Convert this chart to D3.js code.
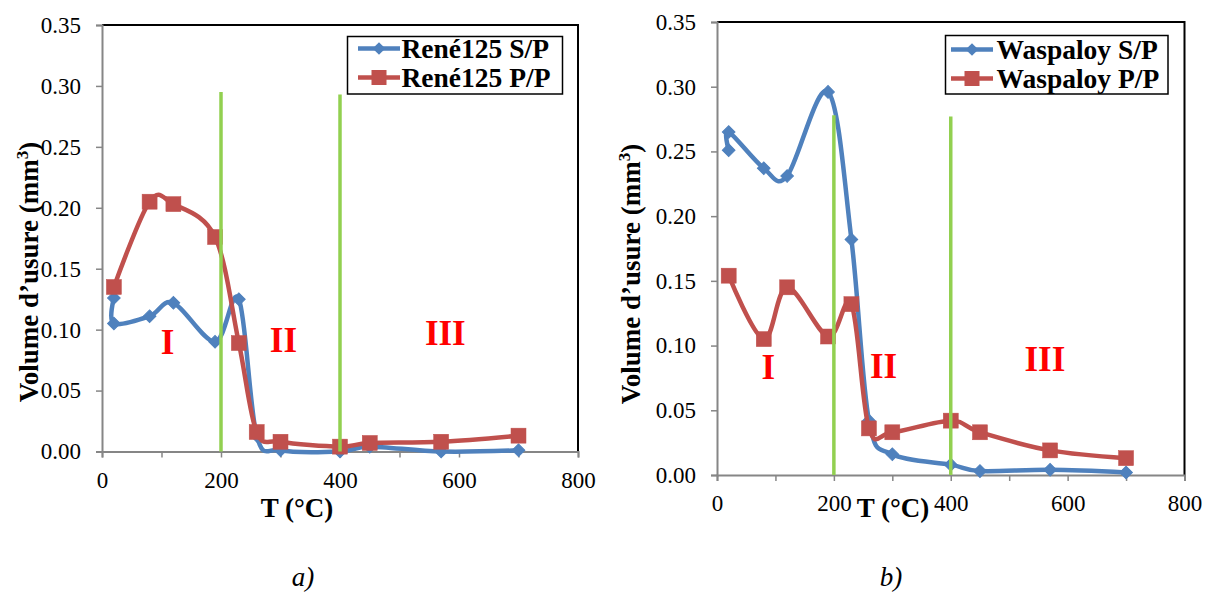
<!DOCTYPE html>
<html>
<head>
<meta charset="utf-8">
<script src="https://cdn.jsdelivr.net/npm/d3@7"></script>
<style>
  html, body { margin: 0; padding: 0; background: #fff; }
  svg { display: block; }
  svg text { font-family: "Liberation Serif", "Times New Roman", serif !important; }
</style>
</head>
<body>
<svg id="chart" width="1208" height="594"></svg>
<script>
// ---------------- DATA ----------------
const yTicks = [0, 0.05, 0.10, 0.15, 0.20, 0.25, 0.30, 0.35];
const xTicks = [0, 100, 200, 300, 400, 500, 600, 700, 800];
const xTickLabels = [0, 200, 400, 600, 800];

// (a) René125
const tempA_SP = [20, 20, 80, 120, 190, 230, 260, 300, 400, 450, 570, 700];
const reneSP   = [0.126, 0.105, 0.111, 0.122, 0.090, 0.125, 0.013, 0.001, 0.000, 0.004, 0.000, 0.001];
const tempA_PP = [20, 80, 120, 190, 230, 260, 300, 400, 450, 570, 700];
const renePP   = [0.135, 0.205, 0.203, 0.176, 0.089, 0.016, 0.008, 0.004, 0.007, 0.008, 0.013];

// (b) Waspaloy
const tempB_SP = [20, 20, 80, 120, 190, 230, 260, 300, 400, 450, 570, 700];
const waspSP   = [0.251, 0.265, 0.237, 0.231, 0.296, 0.182, 0.042, 0.016, 0.008, 0.003, 0.004, 0.002];
const tempB_PP = [20, 80, 120, 190, 230, 260, 300, 400, 450, 570, 700];
const waspPP   = [0.154, 0.105, 0.145, 0.107, 0.132, 0.036, 0.033, 0.042, 0.033, 0.019, 0.013];

// regime boundaries (green lines)
const dividerT = [200, 400];
const dividerTopA = [0.295, 0.293];
const dividerTopB = [0.278, 0.277];

const regimeLabels = ["I", "II", "III"];
const regimeT_A = [110, 305, 577];
const regimeV_A = [0.080, 0.082, 0.087];
const regimeT_B = [88, 285, 561];
const regimeV_B = [0.074, 0.075, 0.080];

// ---------------- STYLE ----------------
const BLUE = "#4F81BD", RED = "#C0504D", GREEN = "#92D050", AXIS = "#868686";
const SERIF = '"Liberation Serif", "Times New Roman", serif';

const svg = d3.select("#chart");

function drawPanel(cfg) {
  const x = d3.scaleLinear().domain([0, 800]).range([cfg.x0, cfg.x1]);
  const y = d3.scaleLinear().domain([0, 0.35]).range([cfg.y0, cfg.y1]);
  const g = svg.append("g");

  // plot border (top/right black)
  g.append("path")
    .attr("d", `M${x(0)},${y(0.35)}H${x(800)}V${y(0)}`)
    .attr("fill", "none").attr("stroke", "#000").attr("stroke-width", 2);

  // Y axis
  const yAxis = d3.axisLeft(y).tickValues(yTicks).tickSize(6).tickPadding(15)
    .tickFormat(d3.format(".2f"));
  const ya = g.append("g").attr("transform", `translate(${x(0)},0)`).call(yAxis)
    .attr("font-family", SERIF).attr("font-size", 23);
  ya.select(".domain").attr("stroke", AXIS).attr("stroke-width", 2);
  ya.selectAll(".tick line").attr("stroke", AXIS).attr("stroke-width", 1.5);
  ya.selectAll(".tick text").attr("fill", "#000").style("font-family", SERIF).style("font-size", "23px");

  // X axis
  const xAxis = d3.axisBottom(x).tickValues(xTicks).tickSize(6).tickPadding(14)
    .tickFormat(d => xTickLabels.includes(d) ? String(d) : "");
  const xa = g.append("g").attr("transform", `translate(0,${y(0)})`).call(xAxis)
    .attr("font-family", SERIF).attr("font-size", 23);
  xa.select(".domain").attr("stroke", AXIS).attr("stroke-width", 2);
  xa.selectAll(".tick line").attr("stroke", AXIS).attr("stroke-width", 1.5);
  xa.selectAll(".tick text").attr("fill", "#000").style("font-family", SERIF).style("font-size", "23px");

  // axis titles
  g.append("text").attr("x", cfg.xTitleX).attr("y", 517)
    .attr("text-anchor", "middle").attr("font-size", 27).attr("font-weight", "bold")
    .text("T (°C)");
  const yt = g.append("text")
    .attr("transform", `translate(${cfg.yTitleX},${cfg.yTitleY}) rotate(-90)`)
    .attr("text-anchor", "middle").attr("font-size", 27).attr("font-weight", "bold");
  yt.append("tspan").text("Volume d’usure (mm");
  yt.append("tspan").attr("font-size", 17).attr("dy", -10).text("3");
  yt.append("tspan").attr("dy", 10).text(")");

  const line = d3.line().x(d => x(d[0])).y(d => y(d[1])).curve(d3.curveCatmullRom.alpha(0));

  const seriesSP = cfg.tSP.map((t, i) => [t, cfg.vSP[i]]);
  const seriesPP = cfg.tPP.map((t, i) => [t, cfg.vPP[i]]);

  // S/P blue
  g.append("path").datum(seriesSP).attr("d", line)
    .attr("fill", "none").attr("stroke", BLUE).attr("stroke-width", 4.5)
    .attr("stroke-linejoin", "round");
  g.selectAll(".dm").data(seriesSP).enter().append("path")
    .attr("transform", d => `translate(${x(d[0])},${y(d[1])}) rotate(45)`)
    .attr("d", d3.symbol().type(d3.symbolSquare).size(80))
    .attr("fill", BLUE).attr("stroke", BLUE).attr("stroke-width", 1);

  // P/P red
  g.append("path").datum(seriesPP).attr("d", line)
    .attr("fill", "none").attr("stroke", RED).attr("stroke-width", 4.5)
    .attr("stroke-linejoin", "round");
  g.selectAll(".sq").data(seriesPP).enter().append("rect")
    .attr("x", d => x(d[0]) - 7.5).attr("y", d => y(d[1]) - 7.5)
    .attr("width", 15).attr("height", 15)
    .attr("fill", RED).attr("stroke", RED).attr("stroke-width", 0.5);

  // green regime lines
  g.selectAll(".div").data(dividerT).enter().append("line")
    .attr("x1", d => x(d)).attr("x2", d => x(d))
    .attr("y1", (d, i) => y(cfg.divTop[i])).attr("y2", y(0))
    .attr("stroke", GREEN).attr("stroke-width", 3.5);

  // regime labels
  g.selectAll(".reg").data(regimeLabels).enter().append("text")
    .attr("x", (d, i) => x(cfg.regT[i])).attr("y", (d, i) => y(cfg.regV[i]))
    .attr("text-anchor", "middle").attr("font-size", 35).attr("font-weight", "bold")
    .attr("fill", "#FF0000").text(d => d);

  // legend
  const L = cfg.legend;
  const lg = g.append("g");
  lg.append("rect").attr("x", L.x).attr("y", L.y).attr("width", L.w).attr("height", L.h)
    .attr("fill", "#fff").attr("stroke", "#000").attr("stroke-width", 1.5);
  const rows = [
    {name: cfg.names[0], color: BLUE, mark: "d", by: L.b1},
    {name: cfg.names[1], color: RED, mark: "s", by: L.b2}
  ];
  rows.forEach(r => {
    const cy = r.by - 9;
    lg.append("line").attr("x1", L.lx0).attr("x2", L.lx1).attr("y1", cy).attr("y2", cy)
      .attr("stroke", r.color).attr("stroke-width", 4.5);
    const mx = (L.lx0 + L.lx1) / 2;
    if (r.mark === "d") {
      lg.append("path").attr("transform", `translate(${mx},${cy}) rotate(45)`)
        .attr("d", d3.symbol().type(d3.symbolSquare).size(80)).attr("fill", r.color);
    } else {
      lg.append("rect").attr("x", mx - 7.5).attr("y", cy - 7.5).attr("width", 15).attr("height", 15)
        .attr("fill", r.color);
    }
    lg.append("text").attr("x", L.tx).attr("y", r.by).attr("font-size", 27.5)
      .attr("font-weight", "bold").text(r.name);
  });

  // panel caption
  g.append("text").attr("x", cfg.capX).attr("y", 586).attr("text-anchor", "middle")
    .attr("font-size", 27).attr("font-style", "italic").text(cfg.caption);
}

drawPanel({
  x0: 102, x1: 578, y0: 451.5, y1: 25,
  tSP: tempA_SP, vSP: reneSP, tPP: tempA_PP, vPP: renePP,
  divTop: dividerTopA, regT: regimeT_A, regV: regimeV_A,
  names: ["René125 S/P", "René125 P/P"],
  legend: {x: 347.5, y: 36.5, w: 215, h: 57.5, lx0: 358, lx1: 400, tx: 401.5, b1: 57.5, b2: 86.5},
  xTitleX: 297, yTitleX: 38, yTitleY: 272,
  capX: 303, caption: "a)"
});

drawPanel({
  x0: 717, x1: 1184.5, y0: 475, y1: 22,
  tSP: tempB_SP, vSP: waspSP, tPP: tempB_PP, vPP: waspPP,
  divTop: dividerTopB, regT: regimeT_B, regV: regimeV_B,
  names: ["Waspaloy S/P", "Waspaloy P/P"],
  legend: {x: 945.5, y: 35.5, w: 222.5, h: 58.5, lx0: 951, lx1: 993, tx: 996.5, b1: 58.5, b2: 87.5},
  xTitleX: 893, yTitleX: 640, yTitleY: 274,
  capX: 891, caption: "b)"
});
</script>
</body>
</html>
